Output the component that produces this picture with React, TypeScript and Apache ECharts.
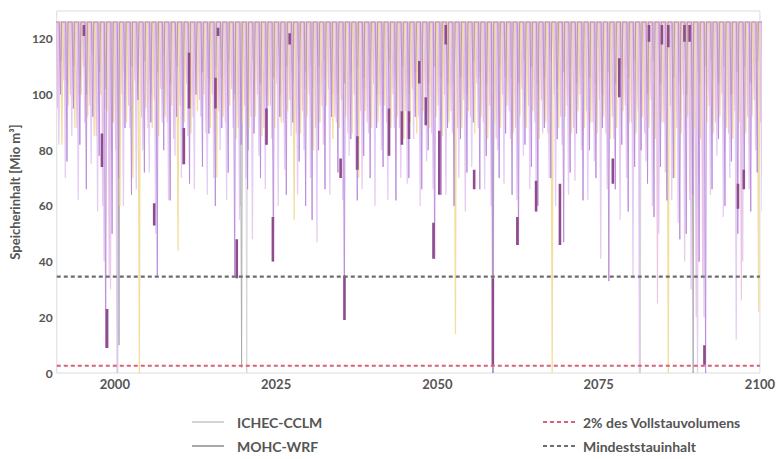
import React, { useEffect, useRef } from "react";
import * as echarts from "echarts";

// ---- data ----
const START_YEAR = 1991;
const FULL_LEVEL = 126; // Vollstau plateau
const TWO_PERCENT_LEVEL = 2.6;
const MIN_STORAGE_LEVEL = 34.6;

const xTickLabels = [2000, 2025, 2050, 2075, 2100];
const legendModels = ["ICHEC-CCLM", "MOHC-WRF"];
const legendLimits = ["2% des Vollstauvolumens", "Mindeststauinhalt"];

// annual minimum storage per model run, years 1991..2100
const lavenderMins = [
  82, 70, 85, 62, 90, 75, 58, 40, 30, 0,
  60, 88, 66, 80, 72, 50, 90, 62, 78, 70,
  85, 66, 92, 64, 70, 80, 62, 88, 55, 70,
  48, 78, 66, 84, 60, 73, 85, 64, 80, 70,
  47, 82, 64, 90, 62, 78, 73, 66, 86, 60,
  80, 62, 88, 70, 68, 84, 60, 76, 66, 82,
  64, 86, 70, 58, 74, 88, 66, 60, 80, 68,
  84, 62, 78, 66, 58, 86, 70, 60, 82, 64,
  69, 80, 62, 76, 41, 66, 84, 55, 70, 34,
  0, 76, 60, 50, 72, 62, 54, 40, 30, 0,
  20, 64, 78, 56, 70, 12, 40, 66, 80, 58,
];
const purpleMins = [
  100, 76, 95, 82, 66, 92, 78, 9, 50, 70,
  88, 64, 98, 72, 90, 35, 80, 62, 92, 75,
  68, 100, 74, 86, 60, 88, 72, 35, 82, 66,
  86, 70, 82, 40, 92, 64, 90, 76, 60, 55,
  80, 66, 92, 72, 19, 84, 62, 78, 70, 88,
  74, 78, 62, 88, 70, 92, 66, 80, 41, 64,
  88, 60, 84, 72, 90, 66, 78, 0, 70, 86,
  64, 46, 82, 74, 60, 88, 70, 84, 47, 72,
  86, 62, 80, 70, 88, 33, 66, 82, 58, 74,
  80, 68, 56, 74, 62, 70, 48, 50, 64, 40,
  0, 66, 84, 60, 76, 50, 70, 58, 72, 80,
];
const pinkMins = [
  95, 105, 100, 88, 110, 96, 85, 60, 35, 80,
  100, 96, 105, 92, 88, 98, 102, 90, 84, 96,
  104, 92, 98, 86, 100, 94, 90, 102, 88, 96,
  92, 100, 88, 96, 104, 90, 98, 86, 94, 100,
  88, 96, 102, 92, 98, 86, 100, 94, 90, 104,
  96, 90, 100, 88, 94, 102, 92, 98, 86, 96,
  100, 94, 88, 98, 92, 104, 90, 96, 84, 100,
  94, 88, 102, 96, 90, 98, 86, 100, 92, 96,
  88, 100, 94, 90, 98, 86, 92, 104, 96, 90,
  94, 86, 98, 25, 90, 96, 88, 100, 62, 20,
  35, 96, 90, 100, 86, 94, 26, 92, 98, 90,
];
const yellowMins = [
  82, 96, 88, 100, 92, 85, 100, 94, 90, 60,
  90, 70, 0, 95, 88, 85, 92, 96, 44, 90,
  86, 94, 100, 88, 70, 92, 96, 84, 90, 88,
  92, 85, 96, 88, 90, 94, 55, 86, 92, 80,
  90, 96, 84, 88, 92, 86, 70, 94, 88, 90,
  96, 88, 92, 84, 90, 86, 94, 88, 92, 85,
  90, 14, 88, 94, 86, 92, 84, 90, 88, 96,
  86, 92, 88, 94, 84, 90, 0, 88, 92, 86,
  94, 88, 90, 86, 92, 84, 88, 94, 90, 86,
  92, 88, 84, 90, 0, 70, 86, 92, 88, 84,
  90, 86, 92, 88, 84, 90, 86, 92, 22, 88,
];
const ichecMins = [
  110, 105, 112, 100, 108, 115, 104, 95, 80, 0,
  108, 112, 100, 110, 105, 116, 102, 108, 112, 100,
  110, 104, 114, 106, 100, 112, 108, 98, 60, 0,
  112, 106, 100, 110, 114, 104, 108, 112, 102, 110,
  104, 112, 108, 100, 114, 106, 110, 102, 108, 112,
  100, 110, 106, 114, 104, 108, 112, 100, 110, 106,
  112, 104, 108, 100, 114, 106, 110, 104, 108, 112,
  106, 100, 112, 108, 104, 110, 114, 102, 108, 100,
  110, 106, 112, 104, 100, 108, 114, 106, 110, 104,
  0, 108, 112, 100, 106, 110, 104, 112, 100, 108,
  104, 112, 106, 110, 100, 108, 112, 104, 110, 106,
];
const mohcMins = [
  112, 104, 110, 106, 100, 114, 108, 102, 90, 10,
  106, 110, 104, 112, 100, 108, 114, 104, 110, 106,
  100, 112, 108, 104, 110, 106, 112, 100, 2, 80,
  108, 104, 112, 106, 100, 110, 104, 112, 108, 102,
  110, 106, 100, 112, 104, 108, 110, 106, 112, 100,
  106, 112, 104, 110, 100, 108, 112, 104, 110, 106,
  104, 110, 106, 100, 112, 108, 104, 0, 110, 106,
  112, 104, 108, 110, 100, 106, 112, 104, 108, 110,
  104, 110, 106, 112, 100, 108, 104, 110, 106, 112,
  108, 100, 112, 104, 110, 106, 108, 100, 0, 104,
  110, 106, 104, 112, 100, 108, 110, 104, 112, 106,
];
// short dark purple (thick) segments: [year, upper value, lower value]
const darkSegments = [
  [1995.2, 125, 121], [1998.0, 86, 74], [1998.8, 23, 9], [2006.1, 61, 53],
  [2010.7, 88, 75], [2011.5, 115, 95], [2015.6, 106, 95], [2016.0, 124, 121],
  [2018.9, 48, 34], [2023.5, 95, 82], [2024.5, 56, 40], [2027.1, 122, 118],
  [2035.6, 35, 19], [2037.6, 85, 73], [2035.0, 77, 70], [2042.5, 95, 78],
  [2044.5, 94, 82], [2045.6, 94, 84], [2047.2, 112, 104], [2048.2, 99, 89],
  [2049.4, 54, 41], [2050.3, 87, 64], [2051.3, 125, 118], [2055.7, 73, 66],
  [2058.6, 34, 3], [2062.4, 56, 46], [2065.3, 69, 58], [2069.0, 68, 46],
  [2078.2, 113, 99], [2077.2, 77, 68], [2082.8, 125, 119], [2084.8, 125, 118],
  [2085.8, 125, 117], [2088.3, 125, 119], [2089.1, 125, 119], [2091.4, 10, 3],
  [2096.6, 68, 59], [2097.5, 73, 66],
];

// ---- helpers ----
function buildSpikes(mins: number[], phase: number) {
  const pts: (number | null)[][] = [[START_YEAR - 0.5, FULL_LEVEL]];
  mins.forEach((m, i) => {
    const y = START_YEAR + i;
    pts.push([y + phase - 0.2, FULL_LEVEL]);
    pts.push([y + phase, m]);
    pts.push([y + phase + 0.14, FULL_LEVEL]);
  });
  pts.push([2100.5, FULL_LEVEL]);
  return pts;
}
function buildSegments(segs: number[][]) {
  const pts: (number | null)[][] = [];
  segs
    .slice()
    .sort((a, b) => a[0] - b[0])
    .forEach(([x, a, b]) => {
      pts.push([x, a]);
      pts.push([x, b]);
      pts.push([x, null]);
    });
  return pts;
}

const FONT = "Lato, 'DejaVu Sans', sans-serif";
const TEXT_COLOR = "#555555";
const LEGEND_FONT = `bold 14px ${FONT}`;

export default function App() {
  const ref = useRef<HTMLDivElement>(null);
  useEffect(() => {
    if (!ref.current) return;
    document.body.style.margin = "0";
    const chart = echarts.init(ref.current, null, { renderer: "svg" });
    const spike = (name: string, data: any, color: string, width: number, z: number, opacity = 0.9) => ({
      name,
      type: "line",
      data,
      symbol: "none",
      z,
      lineStyle: { color, width, opacity },
      itemStyle: { color },
      emphasis: { disabled: true },
    });
    const legendLine = (x: number, y: number, color: string, dashed: boolean) => ({
      type: "line",
      shape: { x1: x, y1: y, x2: x + 32, y2: y },
      style: { stroke: color, lineWidth: 2, lineDash: dashed ? [4, 3] : null },
    });
    const legendText = (x: number, y: number, text: string) => ({
      type: "text",
      x,
      y,
      style: { text, font: LEGEND_FONT, fill: TEXT_COLOR, verticalAlign: "middle", align: "left" },
    });
    chart.setOption({
      animation: false,
      backgroundColor: "#ffffff",
      textStyle: { fontFamily: FONT },
      grid: {
        left: 56,
        right: 11,
        top: 11,
        bottom: 86,
        show: true,
        borderColor: "#dcdcdc",
        borderWidth: 1,
      },
      xAxis: {
        type: "value",
        min: START_YEAR,
        max: 2100,
        splitLine: { show: false },
        axisLine: { show: false },
        axisTick: { show: false },
        axisLabel: {
          customValues: xTickLabels,
          formatter: (v: number) => String(v),
          color: TEXT_COLOR,
          fontSize: 13,
          fontWeight: "bold",
          fontFamily: FONT,
          margin: 4,
        },
      },
      yAxis: {
        type: "value",
        min: 0,
        max: 130,
        interval: 20,
        name: "Speicherinhalt [Mio m³]",
        nameLocation: "middle",
        nameGap: 27,
        nameRotate: 90,
        nameTextStyle: { color: TEXT_COLOR, fontSize: 13, fontWeight: "bold", fontFamily: FONT },
        splitLine: { show: false },
        axisLine: { show: false },
        axisTick: { show: false },
        axisLabel: {
          color: TEXT_COLOR,
          fontSize: 12,
          fontWeight: "bold",
          fontFamily: FONT,
          margin: 4,
          showMaxLabel: false,
        },
      },
      graphic: [
        legendLine(192, 422, "#d4d4d4", false),
        legendText(237, 422, legendModels[0]),
        legendLine(192, 446, "#a8a8a8", false),
        legendText(237, 446, legendModels[1]),
        legendLine(543, 422, "#d9607a", true),
        legendText(583, 422, legendLimits[0]),
        legendLine(543, 446, "#6e6e6e", true),
        legendText(583, 446, legendLimits[1]),
      ],
      series: [
        spike("ICHEC-CCLM", buildSpikes(ichecMins, 0.45), "#d4d4d4", 1, 1),
        spike("MOHC-WRF", buildSpikes(mohcMins, 0.65), "#a8a8a8", 1, 2),
        spike("pink", buildSpikes(pinkMins, 0.12), "#e8b0d8", 1.1, 3, 0.75),
        spike("lavender", buildSpikes(lavenderMins, 0.33), "#dcbcf0", 1.3, 4, 0.75),
        spike("yellow", buildSpikes(yellowMins, 0.8), "#f0d98e", 1.3, 5, 0.85),
        spike("purple", buildSpikes(purpleMins, 0.58), "#b98ad8", 1, 6),
        {
          name: "dark",
          type: "line",
          data: buildSegments(darkSegments),
          symbol: "none",
          connectNulls: false,
          z: 7,
          lineStyle: { color: "#8e4c8e", width: 2.6 },
          emphasis: { disabled: true },
        },
        {
          name: legendLimits[0],
          type: "line",
          data: [[START_YEAR, TWO_PERCENT_LEVEL], [2100, TWO_PERCENT_LEVEL]],
          symbol: "none",
          z: 8,
          lineStyle: { color: "#d9607a", width: 2, type: [4, 3] },
          emphasis: { disabled: true },
        },
        {
          name: legendLimits[1],
          type: "line",
          data: [[START_YEAR, MIN_STORAGE_LEVEL], [2100, MIN_STORAGE_LEVEL]],
          symbol: "none",
          z: 8,
          lineStyle: { color: "#6e6e6e", width: 2.2, type: [4, 3] },
          emphasis: { disabled: true },
        },
      ],
    });
    return () => chart.dispose();
  }, []);
  return <div ref={ref} style={{ width: 778, height: 459 }} />;
}
